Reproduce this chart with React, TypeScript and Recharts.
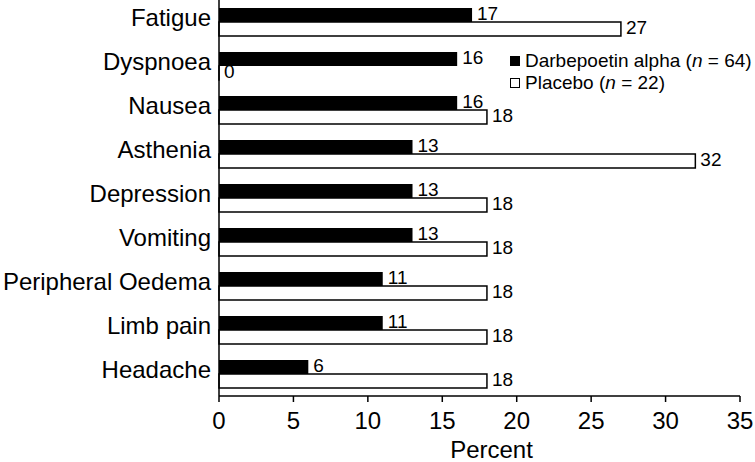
import { BarChart, Bar, XAxis, YAxis, Legend, LabelList, Label } from 'recharts'

const categories = ['Fatigue', 'Dyspnoea', 'Nausea', 'Asthenia', 'Depression', 'Vomiting', 'Peripheral Oedema', 'Limb pain', 'Headache']
const darbepoetin = [17, 16, 16, 13, 13, 13, 11, 11, 6]
const placebo = [27, 0, 18, 32, 18, 18, 18, 18, 18]
const xTicks = [0, 5, 10, 15, 20, 25, 30, 35]

const FONT = '"Liberation Sans", Arial, Helvetica, sans-serif'

const data = categories.map((name, i) => ({ name, darb: darbepoetin[i], placebo: placebo[i] }))

function ValueLabel(props: any) {
  const { x, y, width, height, value } = props
  const w = Number(width) || 0
  const h = Number(height) || 14
  return (
    <text x={Number(x) + w + 5} y={Number(y) + h / 2 - 2} dy="0.35em" fontSize={19} fontFamily={FONT} fill="#000">
      {value}
    </text>
  )
}

function CategoryTick(props: any) {
  const { x, y, payload } = props
  return (
    <text x={x} y={y - 4} dy="0.35em" textAnchor="end" fontSize={24} fontFamily={FONT} fill="#000">
      {payload.value}
    </text>
  )
}

function LegendBox() {
  const rows = [
    { label: 'Darbepoetin alpha', n: 64, fill: '#000' },
    { label: 'Placebo', n: 22, fill: '#fff' },
  ]
  return (
    <div style={{ fontFamily: FONT, fontSize: 19, color: '#000' }}>
      {rows.map((r) => (
        <div key={r.label} style={{ display: 'flex', alignItems: 'center', height: 22, whiteSpace: 'nowrap' }}>
          <span
            style={{
              display: 'inline-block',
              flexShrink: 0,
              boxSizing: 'border-box',
              width: 10,
              height: 10,
              background: r.fill,
              border: '1.5px solid #000',
              marginRight: 5,
            }}
          />
          <span>
            {r.label} (<i>n</i> = {r.n})
          </span>
        </div>
      ))}
    </div>
  )
}

export default function App() {
  return (
    <div style={{ position: 'absolute', left: 0, top: 0, background: '#fff' }}>
      <BarChart
        width={755}
        height={462}
        data={data}
        layout="vertical"
        margin={{ top: 0, right: 15, bottom: 0, left: 0 }}
        barGap={0}
        barSize={14}
      >
        <XAxis
          type="number"
          domain={[0, 35]}
          ticks={xTicks}
          height={66}
          axisLine={{ stroke: '#000', strokeWidth: 1.5 }}
          tickLine={{ stroke: '#000', strokeWidth: 1.5 }}
          tickSize={6}
          tickMargin={10}
          tick={{ fill: '#000', fontSize: 24, fontFamily: FONT }}
        >
          <Label value="Percent" position="insideBottom" offset={4} dx={12} fill="#000" fontSize={24} fontFamily={FONT} />
        </XAxis>
        <YAxis
          type="category"
          dataKey="name"
          width={219}
          axisLine={{ stroke: '#000', strokeWidth: 1.5 }}
          tickLine={false}
          tickSize={0}
          tickMargin={8}
          interval={0}
          tick={<CategoryTick />}
        />
        <Legend
          layout="vertical"
          verticalAlign="middle"
          align="center"
          content={<LegendBox />}
          wrapperStyle={{ position: 'absolute', top: 50, left: 510, width: 240 }}
        />
        <Bar dataKey="darb" name="Darbepoetin alpha" fill="#000" isAnimationActive={false}>
          <LabelList dataKey="darb" content={<ValueLabel />} />
        </Bar>
        <Bar
          dataKey="placebo"
          name="Placebo"
          fill="#fff"
          stroke="#000"
          strokeWidth={1.5}
          minPointSize={0.01}
          isAnimationActive={false}
        >
          <LabelList dataKey="placebo" content={<ValueLabel />} />
        </Bar>
      </BarChart>
    </div>
  )
}
